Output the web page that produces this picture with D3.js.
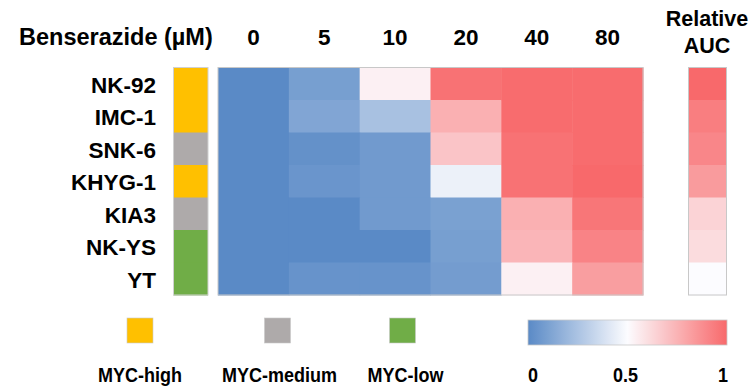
<!DOCTYPE html>
<html>
<head>
<meta charset="utf-8">
<script src="https://cdn.jsdelivr.net/npm/d3@7/dist/d3.min.js"></script>
<style>
  html, body { margin: 0; padding: 0; background: #fff; }
  svg text { font-family: "Liberation Sans", Arial, sans-serif; font-weight: bold; fill: #000; }
</style>
</head>
<body>
<svg id="chart" width="756" height="390"></svg>
<script>
// Cell lines (rows) and benserazide doses (columns)
const cellLines = ["NK-92", "IMC-1", "SNK-6", "KHYG-1", "KIA3", "NK-YS", "YT"];
const doses = ["0", "5", "10", "20", "40", "80"];
// MYC expression group per cell line
const mycGroup = ["high", "high", "medium", "high", "medium", "low", "low"];
const groupNames = ["high", "medium", "low"];
const groupLabels = ["MYC-high", "MYC-medium", "MYC-low"];
const groupColors = ["#FFC000", "#AEAAAA", "#70AD47"];
// Relative growth inhibition, one array per cell line (doses in order)
const valNK92  = [0, 0.09, 0.54, 0.97, 0.99, 0.99];
const valIMC1  = [0, 0.12, 0.24, 0.76, 0.99, 0.99];
const valSNK6  = [0, 0.03, 0.07, 0.69, 0.97, 0.99];
const valKHYG1 = [0, 0.05, 0.07, 0.45, 0.97, 1.00];
const valKIA3  = [0, 0.00, 0.07, 0.10, 0.76, 0.955];
const valNKYS  = [0, 0.00, 0.00, 0.09, 0.74, 0.91];
const valYT    = [0, 0.04, 0.04, 0.08, 0.54, 0.82];
const values = [valNK92, valIMC1, valSNK6, valKHYG1, valKIA3, valNKYS, valYT];
// Relative area under the curve per cell line
const relAUC = [1.00, 0.93, 0.90, 0.83, 0.64, 0.61, 0.50];
// Colour bar tick labels
const barTicks = [0, 0.5, 1];

const svg = d3.select("#chart");

const color = d3.scaleLinear()
  .domain([0, 0.5, 1])
  .range(["#5A8AC6", "#FCFCFF", "#F8696B"])
  .interpolate(d3.interpolateRgb);

const x = d3.scaleBand().domain(doses).range([218, 643]);
const y = d3.scaleBand().domain(cellLines).range([67.5, 295]);
const groupColor = d3.scaleOrdinal().domain(groupNames).range(groupColors);

// Heatmap cells
const cells = [];
cellLines.forEach((c, i) => doses.forEach((d, j) => cells.push({ c, d, v: values[i][j] })));
svg.append("g").selectAll("rect").data(cells).join("rect")
  .attr("x", d => x(d.d))
  .attr("y", d => y(d.c))
  .attr("width", x.bandwidth() + 0.5)
  .attr("height", y.bandwidth() + 0.5)
  .attr("fill", d => color(d.v));
svg.append("rect")
  .attr("x", 218).attr("y", 67.5).attr("width", 425).attr("height", 227.5)
  .attr("fill", "none").attr("stroke", "#c8c8c8").attr("stroke-width", 1);

// MYC group strip
svg.append("g").selectAll("rect").data(cellLines).join("rect")
  .attr("x", 173.5)
  .attr("y", d => y(d))
  .attr("width", 34.5)
  .attr("height", y.bandwidth() + 0.5)
  .attr("fill", (d, i) => groupColor(mycGroup[i]));
svg.append("rect")
  .attr("x", 173.5).attr("y", 67.5).attr("width", 34.5).attr("height", 227.5)
  .attr("fill", "none").attr("stroke", "#d0d0d0").attr("stroke-width", 1);

// Relative AUC column
svg.append("g").selectAll("rect").data(cellLines).join("rect")
  .attr("x", 688.5)
  .attr("y", d => y(d))
  .attr("width", 38)
  .attr("height", y.bandwidth() + 0.5)
  .attr("fill", (d, i) => color(relAUC[i]));
svg.append("rect")
  .attr("x", 688.5).attr("y", 67.5).attr("width", 38).attr("height", 227.5)
  .attr("fill", "none").attr("stroke", "#c8c8c8").attr("stroke-width", 1);

// Row labels
svg.append("g").selectAll("text").data(cellLines).join("text")
  .attr("x", 156)
  .attr("y", d => y(d) + y.bandwidth() / 2 + 9)
  .attr("text-anchor", "end")
  .style("font-size", "22.5px")
  .text(d => d);

// Column headers
svg.append("text").attr("x", 19).attr("y", 45).style("font-size", "23.5px").text("Benserazide (µM)");
svg.append("g").selectAll("text").data(doses).join("text")
  .attr("x", d => x(d) + x.bandwidth() / 2)
  .attr("y", 45)
  .attr("text-anchor", "middle")
  .style("font-size", "22.5px")
  .text(d => d);
svg.append("text").attr("x", 707).attr("y", 26).attr("text-anchor", "middle").style("font-size", "21.5px").text("Relative");
svg.append("text").attr("x", 707).attr("y", 53).attr("text-anchor", "middle").style("font-size", "21.5px").text("AUC");

// Bottom legend labels are drawn slightly taller than wide
const stretch = (lx, ly) => `translate(${lx},${ly}) scale(1,1.15)`;

// MYC group legend
const legendX = [140, 277.5, 402.5];
const lg = svg.append("g").selectAll("g").data(groupNames).join("g");
lg.append("rect")
  .attr("x", (d, i) => legendX[i] - 13)
  .attr("y", 318)
  .attr("width", 26)
  .attr("height", 25)
  .attr("fill", d => groupColor(d))
  .attr("stroke", "#c8c8c8").attr("stroke-width", 0.6);
lg.append("text")
  .attr("transform", (d, i) => stretch(legendX[i] + [0, 2, 3][i], 382))
  .attr("text-anchor", "middle")
  .style("font-size", "18px")
  .text((d, i) => groupLabels[i]);

// Colour bar legend
const defs = svg.append("defs");
const grad = defs.append("linearGradient").attr("id", "cbar");
d3.range(0, 1.0001, 0.05).forEach(t => {
  grad.append("stop").attr("offset", t).attr("stop-color", color(t));
});
const cb = d3.scaleLinear().domain([0, 1]).range([528, 727]);
svg.append("rect")
  .attr("x", cb(0)).attr("y", 320).attr("width", cb(1) - cb(0)).attr("height", 25)
  .attr("fill", "url(#cbar)").attr("stroke", "#c8c8c8").attr("stroke-width", 0.8);
svg.append("g").selectAll("text").data(barTicks).join("text")
  .attr("transform", d => stretch(cb(d) + (d === 0 ? 5 : d === 1 ? -4 : -2), 382))
  .attr("text-anchor", "middle")
  .style("font-size", "18px")
  .text(d => d);
</script>
</body>
</html>
